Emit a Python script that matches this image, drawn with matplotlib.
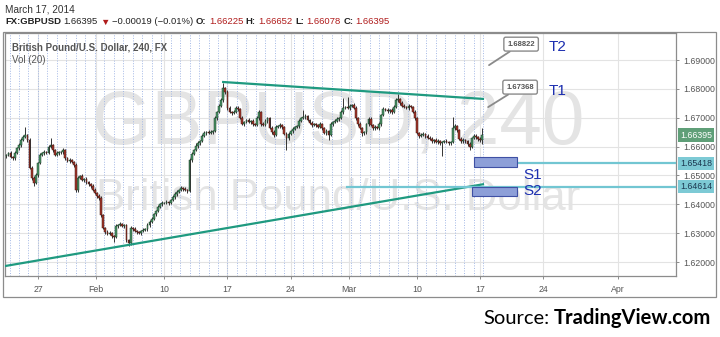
import numpy as np
import matplotlib.pyplot as plt
from matplotlib.patches import Rectangle

# GBPUSD 240 min candles (x = trading days from Mon Jan 27)
first_open = 1.6568
closes = [
    1.6571, 1.6578, 1.6564,
    1.6560, 1.6578, 1.6595, 1.6605, 1.6623, 1.6633,
    1.6640, 1.6623, 1.6526, 1.6491, 1.6474, 1.6502,
    1.6543, 1.6571, 1.6578, 1.6581, 1.6578, 1.6599,
    1.6605, 1.6588, 1.6571, 1.6578, 1.6581, 1.6581,
    1.6588, 1.6560, 1.6550, 1.6553, 1.6547, 1.6536,
    1.6450, 1.6491, 1.6498, 1.6484, 1.6488, 1.6477,
    1.6470, 1.6463, 1.6450, 1.6439, 1.6429, 1.6422,
    1.6363, 1.6318, 1.6304, 1.6297, 1.6301, 1.6290,
    1.6287, 1.6325, 1.6328, 1.6332, 1.6325, 1.6328,
    1.6276, 1.6266, 1.6318, 1.6314, 1.6307, 1.6304,
    1.6301, 1.6307, 1.6311, 1.6314, 1.6328, 1.6339,
    1.6349, 1.6366, 1.6377, 1.6391, 1.6401, 1.6405,
    1.6405, 1.6408, 1.6405, 1.6415, 1.6425, 1.6436,
    1.6443, 1.6450, 1.6456, 1.6453, 1.6450, 1.6446,
    1.6553, 1.6574, 1.6588, 1.6602, 1.6612, 1.6619,
    1.6637, 1.6647, 1.6651, 1.6647, 1.6651, 1.6654,
    1.6699, 1.6720, 1.6741, 1.6761, 1.6803, 1.6789,
    1.6734, 1.6720, 1.6716, 1.6720, 1.6734, 1.6730,
    1.6699, 1.6678, 1.6685, 1.6692, 1.6685, 1.6689,
    1.6678, 1.6675, 1.6699, 1.6720, 1.6678, 1.6675,
    1.6689, 1.6699, 1.6664, 1.6651, 1.6640, 1.6668,
    1.6671, 1.6675, 1.6668, 1.6644, 1.6630, 1.6644,
    1.6654, 1.6661, 1.6668, 1.6671, 1.6689, 1.6699,
    1.6702, 1.6706, 1.6692, 1.6682, 1.6675, 1.6678,
    1.6675, 1.6668, 1.6678, 1.6664, 1.6647, 1.6654,
    1.6640, 1.6678, 1.6685, 1.6689, 1.6696, 1.6699,
    1.6720, 1.6734, 1.6737, 1.6734, 1.6741, 1.6744,
    1.6734, 1.6699, 1.6678, 1.6664, 1.6647, 1.6651,
    1.6678, 1.6696, 1.6675, 1.6664, 1.6668, 1.6664,
    1.6678, 1.6709, 1.6730, 1.6727, 1.6723, 1.6727,
    1.6720, 1.6737, 1.6761, 1.6765, 1.6751, 1.6741,
    1.6737, 1.6734, 1.6741, 1.6737, 1.6720, 1.6699,
    1.6647, 1.6637, 1.6640, 1.6644, 1.6637, 1.6630,
    1.6626, 1.6619, 1.6623, 1.6616, 1.6619, 1.6612,
    1.6616, 1.6619, 1.6616, 1.6612, 1.6616, 1.6664,
    1.6671, 1.6657, 1.6626, 1.6619, 1.6623, 1.6619,
    1.6609, 1.6599, 1.6630, 1.6637, 1.6633, 1.6626,
    1.66225, 1.66395,
]
# wick lengths above / below the body, in pips
wick_up = [
    5, 4, 6,
    4, 6, 5, 7, 5, 6,   28, 5, 6, 5, 8, 6,   5, 7, 4, 6, 5, 6,
    25, 5, 4, 6, 5, 4,  8, 5, 4, 6, 5, 4,    6, 7, 5, 6, 4, 5,
    5, 4, 6, 5, 4, 6,   6, 5, 4, 6, 5, 4,    5, 7, 5, 6, 4, 5,
    4, 5, 8, 5, 6, 4,   5, 4, 6, 5, 7, 5,    6, 5, 4, 7, 5, 6,
    4, 6, 5, 4, 6, 5,   5, 4, 6, 5, 7, 4,    6, 8, 5, 10, 6, 5,
    5, 6, 4, 7, 5, 4,   6, 5, 7, 6, 17, 5,   6, 5, 4, 6, 8, 5,
    5, 6, 4, 5, 6, 4,   5, 4, 6, 8, 5, 6,    6, 5, 4, 6, 5, 7,
    5, 6, 4, 5, 6, 5,   4, 6, 5, 4, 7, 5,    25, 6, 5, 4, 6, 5,
    5, 4, 6, 5, 4, 6,   5, 6, 4, 5, 6, 5,    6, 34, 5, 34, 6, 5,
    7, 5, 4, 6, 5, 4,   5, 6, 5, 4, 6, 5,    6, 5, 8, 5, 6, 4,
    5, 6, 8, 17, 5, 6,  6, 5, 7, 4, 5, 6,    5, 4, 6, 5, 4, 6,
    5, 6, 4, 5, 6, 4,   5, 4, 6, 5, 4, 38,   6, 5, 4, 6, 5, 4,
    5, 6, 4, 5, 6, 5,
    6, 26,
]
wick_dn = [
    6, 5, 4,
    6, 5, 4, 6, 5, 4,   5, 6, 5, 7, 10, 5,   6, 4, 5, 6, 5, 4,
    5, 6, 5, 4, 6, 5,   6, 5, 4, 6, 5, 7,    8, 6, 5, 4, 6, 5,
    5, 6, 4, 5, 6, 7,   6, 5, 7, 5, 4, 6,    18, 5, 6, 4, 5, 6,
    5, 10, 6, 5, 4, 6,  5, 6, 4, 5, 6, 5,    4, 5, 6, 4, 5, 6,
    5, 4, 6, 5, 4, 5,   6, 5, 4, 6, 5, 8,    5, 6, 4, 5, 6, 5,
    4, 5, 6, 5, 4, 6,   5, 6, 4, 5, 6, 8,    6, 5, 7, 4, 5, 6,
    5, 4, 6, 5, 4, 6,   6, 5, 4, 6, 8, 5,    5, 6, 4, 7, 6, 5,
    4, 5, 6, 5, 42, 6,  5, 6, 4, 5, 6, 4,    5, 6, 4, 5, 6, 5,
    6, 5, 4, 6, 5, 7,   17, 5, 6, 4, 5, 6,   5, 6, 4, 5, 6, 4,
    5, 6, 5, 4, 9, 6,   6, 5, 4, 6, 5, 4,    5, 6, 4, 5, 6, 5,
    6, 5, 4, 5, 6, 4,   5, 4, 6, 5, 4, 6,    5, 6, 4, 5, 6, 5,
    4, 6, 5, 4, 6, 5,   45, 5, 4, 6, 5, 4,   5, 6, 4, 5, 6, 5,
    6, 11, 5, 4, 6, 5,
    5, 15,
]
first_day = -2.5          # first candle, trading days from Jan 27
bars_per_day = 6

tick_days = [0, 4.6, 10, 15, 20, 24.6, 30, 35, 40, 45.9]
tick_labels = ['27', 'Feb', '10', '17', '24', 'Mar', '10', '17', '24', 'Apr']

# drawings (trading day, price)
trend_low = [(-2.61, 1.6186), (35.31, 1.6470)]
trend_high = [(14.57, 1.6824), (35.31, 1.6765)]
support_levels = [1.65418, 1.64614]
support_names = ['S1', 'S2']
support_start = [37.93, 24.47]
support_boxes = [(34.52, 37.93, 1.6529, 1.6564), (34.36, 37.93, 1.6429, 1.6460)]
targets = [1.67368, 1.68822]
target_names = ['T1', 'T2']
last_price = 1.66395

W, H = 720, 337
plt.rcParams['font.family'] = ['Liberation Sans', 'DejaVu Sans']
fig = plt.figure(figsize=(W / 100, H / 100), dpi=100)
ax = fig.add_axes([5 / W, 1 - 276 / H, 671 / W, 243 / H])
ax.set_xlim(-2.61, 50.5)
ax.set_ylim(1.61515, 1.69936)

grid_c = '#e3e3e3'
frame_c = '#8c8c8c'

# grid
for y in np.arange(1.62, 1.695, 0.01):
    ax.axhline(y, color=grid_c, lw=0.8, zorder=1)
for d in tick_days:
    ax.axvline(d, color=grid_c, lw=0.8, zorder=1)
for d in np.arange(-2.25, 35.6, 0.75):
    ax.axvline(d, color='#a3b8e6', lw=0.7, ls=(0, (1, 1.6)), zorder=1)

# watermark
ax.text(0.497, 0.625, 'GBPUSD, 240', transform=ax.transAxes, ha='center', va='center',
        fontsize=55, color='#e4e4e4', zorder=0)
ax.text(0.497, 0.32, 'British Pound/U.S. Dollar', transform=ax.transAxes, ha='center',
        va='center', fontsize=31.5, color='#e4e4e4', zorder=0)

# candles
c = np.array(closes)
o = np.r_[first_open, c[:-1]]
hi = np.maximum(o, c) + np.array(wick_up) * 1e-4
lo = np.minimum(o, c) - np.array(wick_dn) * 1e-4
x = first_day + np.arange(len(c)) / bars_per_day
up = c >= o
body = np.maximum(np.abs(c - o), 0.00012)
ax.vlines(x, lo, hi, color='#333333', lw=0.7, zorder=3)
ax.bar(x[up], body[up], bottom=o[up], width=0.14, color='#4a9566',
       edgecolor='#1c3a27', lw=0.35, zorder=4)
ax.bar(x[~up], body[~up], bottom=c[~up], width=0.14, color='#a3372b',
       edgecolor='#3f1510', lw=0.35, zorder=4)

# trend lines
for line in (trend_low, trend_high):
    xs, ys = zip(*line)
    ax.plot(xs, ys, color='#1f9a80', lw=1.6, zorder=5, solid_capstyle='butt')

# support levels
for lvl, name, x0, box in zip(support_levels, support_names, support_start, support_boxes):
    ax.plot([x0, 50.5], [lvl, lvl], color='#72c6d2', lw=1.6, zorder=5)
    bx0, bx1, by0, by1 = box
    ax.add_patch(Rectangle((bx0, by0), bx1 - bx0, by1 - by0, facecolor='#8d9fd8',
                           edgecolor='#3f50a4', lw=0.8, zorder=6))
    ax.text(bx1 + 0.5, by0 - 0.0003 if name == 'S1' else (by0 + by1) / 2, name,
            color='#1d2fb0', fontsize=11, ha='left', va='top' if name == 'S1' else 'center',
            zorder=7)

# target callouts
callout_xy = [(35.63, 38.16, 1.6806), (35.7, 38.24, 1.6955)]
for val, name, (tip_x, bx, by) in zip(targets, target_names, callout_xy):
    ax.annotate(f'{val:.5f}', xy=(tip_x, val), xytext=(bx, by), ha='center', va='center',
                fontsize=5.5, color='#555555', fontweight='bold', zorder=8,
                bbox=dict(boxstyle='round,pad=0.45,rounding_size=0.25', fc='white',
                          ec='#8a8a8a', lw=1),
                arrowprops=dict(arrowstyle='-', color='#8a8a8a', lw=1.3,
                                shrinkA=0, shrinkB=0))
    ax.text(40.4, by - 0.0012 if name == 'T1' else by - 0.001, name, color='#1d2fb0',
            fontsize=11, ha='left', va='center', zorder=7)

# axes styling
for s in ax.spines.values():
    s.set_color(frame_c)
    s.set_linewidth(0.9)
ax.yaxis.tick_right()
ax.set_yticks(np.arange(1.62, 1.695, 0.01))
ax.set_yticklabels([f'{v:.5f}' for v in np.arange(1.62, 1.695, 0.01)])
ax.set_xticks(tick_days)
ax.set_xticklabels(tick_labels)
ax.tick_params(axis='both', colors=frame_c, labelcolor='#555555', labelsize=6.3,
               length=2.5, width=0.7)
ax.tick_params(axis='x', pad=4)
ax.tick_params(axis='y', pad=3)

# price tags on the axis
tags = [(last_price, '#5f9f78', 'white'), (support_levels[0], '#7dcad5', '#1c3850'),
        (support_levels[1], '#7dcad5', '#1c3850')]
for val, fc, tc in tags:
    ax.text(1.006, val, f'{val:.5f}', transform=ax.get_yaxis_transform(), ha='left',
            va='center', fontsize=6.3, color=tc, zorder=9, clip_on=False,
            bbox=dict(boxstyle='square,pad=0.25', fc=fc, ec='none'))

# outer frame around chart, price scale and date scale
fig.patches.append(Rectangle((3 / W, 1 - 297 / H), 713 / W, 265 / H, transform=fig.transFigure,
                             fill=False, ec=frame_c, lw=0.9))

renderer = fig.canvas.get_renderer()


def text_row(items, x0, y, size):
    xp = x0
    for txt, weight, color in items:
        t = fig.text(xp / W, 1 - y / H, txt, fontsize=size, fontweight=weight, color=color,
                     ha='left', va='center')
        xp = t.get_window_extent(renderer).x1 + 2.5


fig.text(5 / W, 1 - 9 / H, 'March 17, 2014', fontsize=7.2, color='#333333', va='center')
red = '#b01c1c'
text_row([('FX:GBPUSD', 'bold', '#222222'), ('1.66395', 'normal', '#222222'),
          ('▼', 'normal', red), ('−0.00019 (−0.01%)', 'normal', '#222222'),
          ('O:', 'bold', '#222222'), ('1.66225', 'normal', red),
          ('H:', 'bold', '#222222'), ('1.66652', 'normal', red),
          ('L:', 'bold', '#222222'), ('1.66078', 'normal', red),
          ('C:', 'bold', '#222222'), ('1.66395', 'normal', red)], 5, 22, 6.8)
fig.text(12 / W, 1 - 47 / H, 'British Pound/U.S. Dollar, 240, FX', fontsize=7,
         fontweight='bold', color='#555555', va='center')
fig.text(12 / W, 1 - 60 / H, 'Vol (20)', fontsize=7, color='#555555', va='center')

# source line
src = fig.text(711 / W, 1 - 318 / H, 'TradingView.com', fontsize=14.5, fontweight='bold',
               color='black', ha='right', va='center', family='Lato')
sx = src.get_window_extent(renderer).x0 - 4
fig.text(sx / W, 1 - 318 / H, 'Source:', fontsize=14.5, color='black', ha='right',
         va='center', family='Lato')

fig.savefig('out.png', dpi=100)
